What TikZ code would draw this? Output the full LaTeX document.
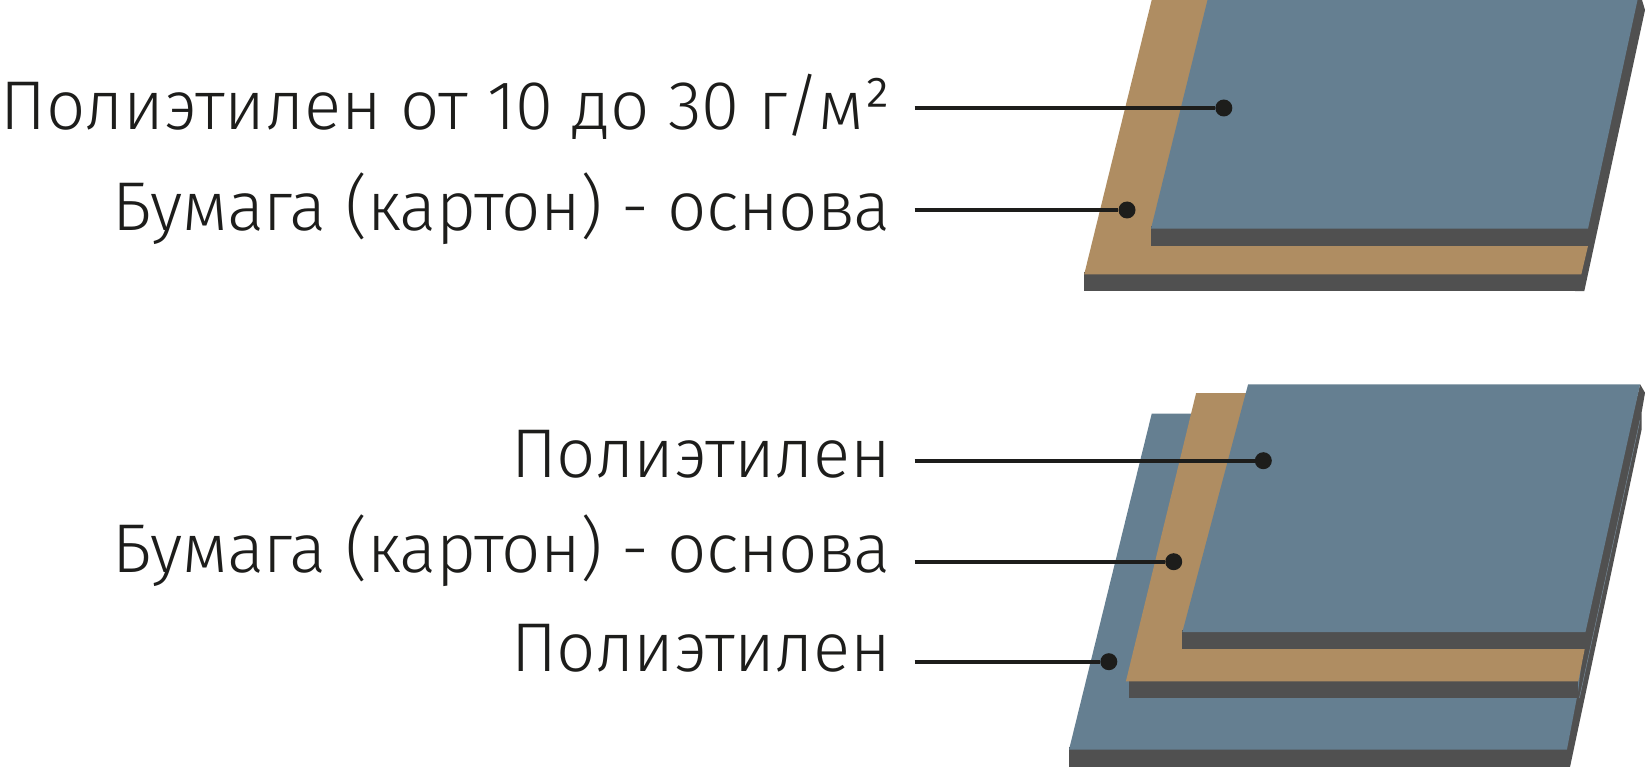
\documentclass[tikz,border=0pt]{standalone}
\usepackage{fontspec}
\setmainfont{Fira Sans Light}
\definecolor{slate}{HTML}{657F91}
\definecolor{kraft}{HTML}{AF8D62}
\definecolor{edge}{HTML}{505050}
\definecolor{ink}{HTML}{1D1D1B}
\tikzset{
  label/.style={anchor=base east,inner sep=0pt,text=ink,font=\fontsize{69}{69}\selectfont},
  longtext/.style={font=\fontsize{69}{69}\selectfont\addfontfeature{LetterSpace=-0.3}},
  tight/.style={font=\fontsize{69}{69}\selectfont\addfontfeature{LetterSpace=-0.85}},
  shorttext/.style={font=\fontsize{69}{69}\selectfont\addfontfeature{LetterSpace=-0.6}},
  pin/.style={circle,fill=ink,draw=none,minimum size=17pt,inner sep=0pt},
  leader/.style={draw=ink,line width=3.6pt},
  slatef/.style={fill=slate,draw=none},
  kraftf/.style={fill=kraft,draw=none},
  edgef/.style={fill=edge,draw=none},
  hair/.style={draw=slate!85!white,line width=0.4pt}
}
\begin{document}
\begin{tikzpicture}[x=1pt,y=-1pt]
\useasboundingbox (0,0) rectangle (1645,767);
% --- upper sample
\fill[edgef] (1600,0) -- (1642,0) -- (1645,10) -- (1584.3,291) -- (1575,291) -- (1575,240) -- (1580,228) -- cycle;
\fill[edgef] (1084.2,272) rectangle (1582,291);
\fill[kraftf] (1151.7,0) -- (1215,0) -- (1160,228.7) -- (1160,246) -- (1588,246) -- (1581.3,274.3) -- (1084.2,274.3) -- cycle;
\fill[edgef] (1151,226) rectangle (1588.5,246);
\fill[slatef] (1207.5,0) -- (1637.5,0) -- (1588,228.7) -- (1151,228.7) -- cycle;
% --- lower sample
\fill[edgef] (1640.1,384.3) -- (1645,392.7) -- (1641.5,413) -- (1641.5,430) -- (1570,767) -- (1560,767) -- (1560,749) -- (1578,650) -- (1580,632) -- cycle;
\draw[hair] (1640,420) -- (1579.4,698);
\fill[edgef] (1069,747) rectangle (1567.5,767);
\fill[slatef] (1151.7,413.7) -- (1625,413.7) -- (1585,632) -- (1578.3,690) -- (1566.9,749.7) -- (1069,749.7) -- cycle;
\fill[edgef] (1129.3,679) rectangle (1578.3,698.3);
\fill[kraftf] (1196.1,393) -- (1255,393) -- (1190,632) -- (1190,649) -- (1584.7,649) -- (1578.3,681.3) -- (1125.9,681.3) -- cycle;
\fill[edgef] (1182.4,630) rectangle (1585.5,649);
\fill[slatef] (1248.1,384.3) -- (1640.1,384.3) -- (1585.5,632) -- (1182.4,632) -- cycle;
% --- labels
\node[label,longtext] (t1) at (891,129.5) {Полиэтилен от 10 до 30 г/м²};
\node[label,tight] (t2) at (891,231) {Бумага (картон) - основа};
\node[label,shorttext] (t3) at (891,477) {Полиэтилен};
\node[label,tight] (t4) at (891,572) {Бумага (картон) - основа};
\node[label,shorttext] (t5) at (891,671) {Полиэтилен};
% --- connectors
\coordinate (s1) at (914.7,108);
\coordinate (s2) at (914.7,210);
\coordinate (s3) at (914.7,460.7);
\coordinate (s4) at (914.7,561.7);
\coordinate (s5) at (914.7,661.7);
\node[pin] (d1) at (1223.8,108) {};
\node[pin] (d2) at (1127,210) {};
\node[pin] (d3) at (1263.3,460.7) {};
\node[pin] (d4) at (1173.7,561.7) {};
\node[pin] (d5) at (1108.8,661.7) {};
\foreach \a/\b in {s1/d1,s2/d2,s3/d3,s4/d4,s5/d5} \draw[leader] (\a) -- (\b);
\end{tikzpicture}
\end{document}
